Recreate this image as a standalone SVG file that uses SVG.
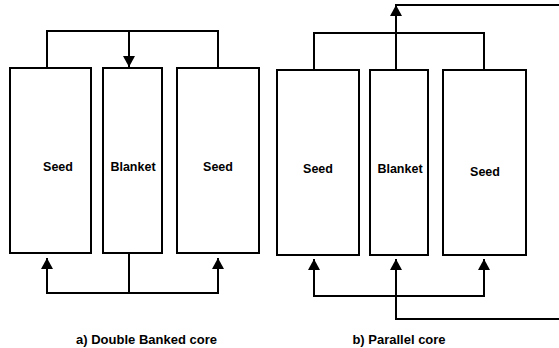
<svg xmlns="http://www.w3.org/2000/svg" width="559" height="348" viewBox="0 0 559 348">
<style>
.box{fill:#fff;stroke:#000;stroke-width:2}
.ln{fill:none;stroke:#000;stroke-width:2}
.lbl{font-family:"Liberation Sans",Arial,sans-serif;font-weight:bold;font-size:12.5px;fill:#000;text-anchor:middle}
.cap{font-family:"Liberation Sans",Arial,sans-serif;font-weight:bold;font-size:13px;fill:#000;text-anchor:middle}
</style>
<defs>
<marker id="ah" markerUnits="userSpaceOnUse" markerWidth="12" markerHeight="12" viewBox="0 0 12 12" refX="11" refY="6" orient="auto">
<path d="M0,0 L11,6 L0,12 Z" fill="#000"/>
</marker>
</defs>
<g id="connectors">
<path class="ln" d="M47,68 V31 H218 V68"/>
<path class="ln" d="M129,31 V67" marker-end="url(#ah)"/>
<path class="ln" d="M129,253 V293"/>
<path class="ln" d="M129,293 H47 V258" marker-end="url(#ah)"/>
<path class="ln" d="M129,293 H218 V258" marker-end="url(#ah)"/>
<path class="ln" d="M314,70 V33 H484 V70"/>
<path class="ln" d="M396,70 V5" marker-end="url(#ah)"/>
<path class="ln" d="M395,5 H560"/>
<path class="ln" d="M396,296 H314 V259" marker-end="url(#ah)"/>
<path class="ln" d="M396,296 H484 V259" marker-end="url(#ah)"/>
<path class="ln" d="M560,319 H396 V259" marker-end="url(#ah)"/>
</g>
<g id="a-seed-left"><rect class="box" x="10" y="68" width="81" height="185"/><text class="lbl" x="58" y="171">Seed</text></g>
<g id="a-blanket"><rect class="box" x="103" y="68" width="59" height="185"/><text class="lbl" x="133" y="171">Blanket</text></g>
<g id="a-seed-right"><rect class="box" x="177" y="68" width="82" height="185"/><text class="lbl" x="218" y="171">Seed</text></g>
<g id="b-seed-left"><rect class="box" x="277" y="70" width="82" height="185"/><text class="lbl" x="318" y="173">Seed</text></g>
<g id="b-blanket"><rect class="box" x="370" y="70" width="58" height="185"/><text class="lbl" x="400" y="173">Blanket</text></g>
<g id="b-seed-right"><rect class="box" x="443" y="70" width="83" height="185"/><text class="lbl" x="485" y="176">Seed</text></g>
<g id="captions">
<text class="cap" x="146.5" y="344">a) Double Banked core</text>
<text class="cap" x="399" y="344">b) Parallel core</text>
</g>
</svg>
